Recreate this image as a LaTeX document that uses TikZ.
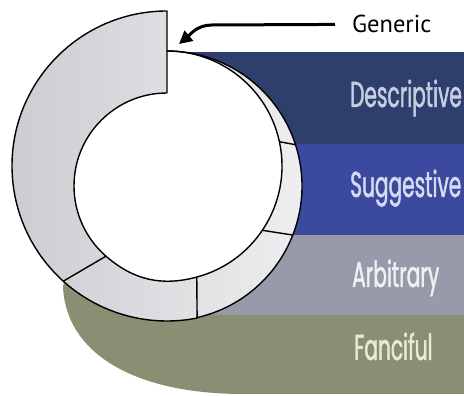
\documentclass[tikz,border=0pt]{standalone}
\usepackage{fontspec}
\setmainfont{PT Sans}
\newfontfamily\bandfont[FakeStretch=0.56,FakeBold=1.2]{Poppins}
\usetikzlibrary{arrows.meta,calc}

\definecolor{descblue}{RGB}{46,63,110}
\definecolor{suggblue}{RGB}{59,74,159}
\definecolor{arbgray}{RGB}{151,154,169}
\definecolor{fancolive}{RGB}{138,142,114}
\definecolor{ringdark}{RGB}{204,204,209}
\definecolor{ringlight}{RGB}{240,240,242}
\definecolor{desctext}{RGB}{200,206,226}
\definecolor{suggtext}{RGB}{214,219,240}
\definecolor{arbtext}{RGB}{238,240,243}
\definecolor{fanctext}{RGB}{232,234,214}

\begin{document}
\begin{tikzpicture}[x=1pt,y=1pt,
  ringline/.style={line width=1.4pt,line join=round},
  bandlabel/.style={anchor=base west,inner sep=0pt,
    font=\bandfont\fontsize{36}{36}\selectfont},
  genlabel/.style={anchor=base west,inner sep=0pt,
    font=\fontsize{24.5}{24.5}\selectfont}]
\useasboundingbox (0,0) rectangle (464,396);

% centres of the two circle families of the ring
\coordinate (A) at (167,230);
\coordinate (B) at (167,210);

% coloured bands behind the ring
\fill[descblue] (167,252) rectangle (464,344);
\fill[suggblue] (167,161) rectangle (464,252);
\fill[arbgray] (167,81) rectangle (464,161);
\fill[fancolive] (66,124) -- (63,109) .. controls (66,45) and (130,3) .. (240,2)
  -- (464,2) -- (464,81) -- (167,81) -- (167,140) -- cycle;

% ring body
\shade[left color=ringdark,right color=ringlight]
  (167,385) arc[start angle=90,end angle=281.2,radius=155pt]
  -- ($(B)+(282.8:135pt)$) arc[start angle=282.8,end angle=450,radius=135pt]
  -- cycle;
% open interior
\fill[white]
  (167,303) arc[start angle=90,end angle=229,radius=93pt]
  to[out=319,in=195] ($(A)+(285:115pt)$)
  arc[start angle=285,end angle=450,radius=115pt] -- cycle;

% ring outlines
\draw[ringline]
  (167,385) arc[start angle=90,end angle=281.2,radius=155pt]
  -- ($(B)+(282.8:135pt)$) arc[start angle=282.8,end angle=450,radius=135pt]
  -- cycle;
\draw[ringline]
  (167,303) arc[start angle=90,end angle=229,radius=93pt]
  to[out=319,in=195] ($(A)+(285:115pt)$)
  arc[start angle=285,end angle=450,radius=115pt] -- cycle;
% segment dividers
\draw[ringline] ($(A)+(228:155pt)$) -- ($(B)+(229:93pt)$);
\draw[ringline] ($(A)+(281.2:155pt)$) -- ($(A)+(285:115pt)$);
\draw[ringline] ($(A)+(326:115pt)$) -- ($(B)+(338.7:135pt)$);
\draw[ringline] ($(A)+(12.2:115pt)$) -- ($(B)+(17.8:135pt)$);

% labels
\node[genlabel] (gen) at (352,363) {Generic};
\node[bandlabel,text=desctext] (desc) at (350,289) {Descriptive};
\node[bandlabel,text=suggtext] (sugg) at (350,199) {Suggestive};
\node[bandlabel,text=arbtext] (arb) at (352,109) {Arbitrary};
\node[bandlabel,text=fanctext] (fanc) at (354,36) {Fanciful};

% pointer to the generic segment
\coordinate (bend) at (212,371);
\coordinate (tip) at (179,352);
\draw[line width=3pt,-{Triangle[length=13pt,width=13pt]}]
  ([xshift=-17pt]gen.west) -- (bend) to[out=180,in=40] (tip);
\end{tikzpicture}
\end{document}
